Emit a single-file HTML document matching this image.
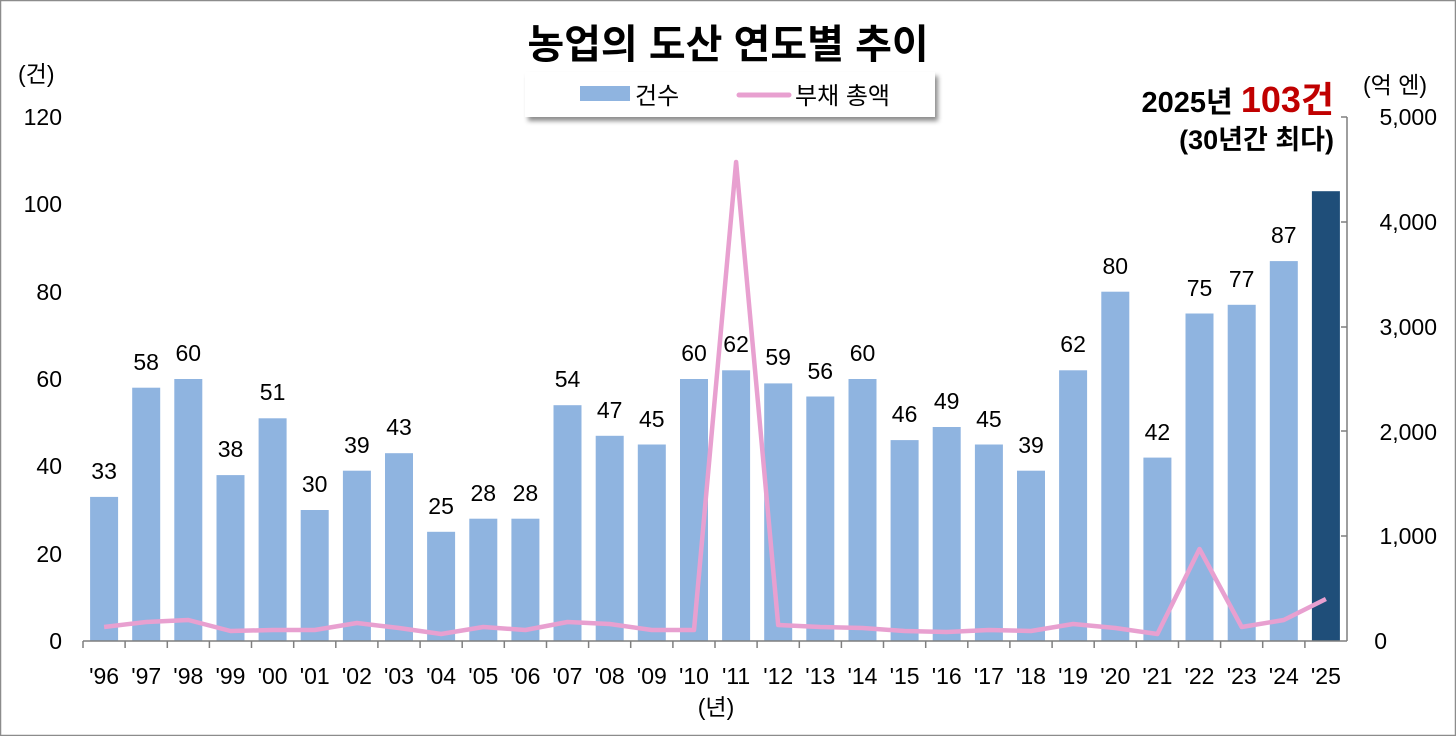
<!DOCTYPE html>
<html><head><meta charset="utf-8"><style>
html,body{margin:0;padding:0;background:#fff;}
svg{display:block;font-family:"Liberation Sans","Noto Sans CJK KR",sans-serif;}
</style></head><body>
<svg width="1456" height="736" viewBox="0 0 1456 736" xmlns="http://www.w3.org/2000/svg">
<defs><filter id="sh" x="-5%" y="-20%" width="115%" height="160%"><feDropShadow dx="3" dy="4" stdDeviation="2.5" flood-color="#000" flood-opacity="0.45"/></filter></defs>
<rect x="0.5" y="0.5" width="1455" height="735" fill="#fff" stroke="#8c8c8c" stroke-width="1.5"/>
<text x="728" y="58" text-anchor="middle" font-size="40" font-weight="bold" fill="#000">농업의 도산 연도별 추이</text>
<rect x="525" y="72" width="410" height="45" fill="#fff" filter="url(#sh)"/>
<rect x="580" y="86" width="50" height="15" fill="#8fb4e0"/>
<text x="635" y="104" font-size="24" fill="#000">건수</text>
<line x1="739" y1="95" x2="789" y2="95" stroke="#e8a0d0" stroke-width="5" stroke-linecap="round"/>
<text x="795" y="104" font-size="24" fill="#000">부채 총액</text>
<text x="18" y="82" font-size="23" fill="#000">(건)</text>
<text x="1363" y="93" font-size="23" fill="#000">(억 엔)</text>
<text x="1334" y="112" text-anchor="end" font-size="29" font-weight="bold" fill="#000">2025년 <tspan fill="#c00000" font-size="36">103건</tspan></text>
<text x="1334" y="149" text-anchor="end" font-size="27" font-weight="bold" fill="#000">(30년간 최다)</text>
<g font-size="23" fill="#000" text-anchor="end">
<text x="62" y="125">120</text><text x="62" y="212">100</text><text x="62" y="300">80</text><text x="62" y="387">60</text><text x="62" y="474">40</text><text x="62" y="562">20</text><text x="62" y="649">0</text>
</g>
<g font-size="23" fill="#000" text-anchor="end">
<text x="1437" y="125">5,000</text><text x="1437" y="230">4,000</text><text x="1437" y="335">3,000</text><text x="1437" y="440">2,000</text><text x="1437" y="544">1,000</text><text x="1387" y="649">0</text>
</g>
<g fill="#8fb4e0">
<rect x="90.1" y="496.9" width="28" height="144.1"/>
<rect x="132.2" y="387.7" width="28" height="253.3"/>
<rect x="174.3" y="379" width="28" height="262"/>
<rect x="216.5" y="475.1" width="28" height="165.9"/>
<rect x="258.6" y="418.3" width="28" height="222.7"/>
<rect x="300.7" y="510" width="28" height="131"/>
<rect x="342.9" y="470.7" width="28" height="170.3"/>
<rect x="385" y="453.2" width="28" height="187.8"/>
<rect x="427.1" y="531.8" width="28" height="109.2"/>
<rect x="469.3" y="518.7" width="28" height="122.3"/>
<rect x="511.4" y="518.7" width="28" height="122.3"/>
<rect x="553.5" y="405.2" width="28" height="235.8"/>
<rect x="595.7" y="435.8" width="28" height="205.2"/>
<rect x="637.8" y="444.5" width="28" height="196.5"/>
<rect x="680" y="379" width="28" height="262"/>
<rect x="722.1" y="370.3" width="28" height="270.7"/>
<rect x="764.2" y="383.4" width="28" height="257.6"/>
<rect x="806.3" y="396.5" width="28" height="244.5"/>
<rect x="848.5" y="379" width="28" height="262"/>
<rect x="890.6" y="440.1" width="28" height="200.9"/>
<rect x="932.7" y="427" width="28" height="214"/>
<rect x="974.9" y="444.5" width="28" height="196.5"/>
<rect x="1017" y="470.7" width="28" height="170.3"/>
<rect x="1059.1" y="370.3" width="28" height="270.7"/>
<rect x="1101.3" y="291.7" width="28" height="349.3"/>
<rect x="1143.4" y="457.6" width="28" height="183.4"/>
<rect x="1185.5" y="313.5" width="28" height="327.5"/>
<rect x="1227.7" y="304.8" width="28" height="336.2"/>
<rect x="1269.8" y="261.1" width="28" height="379.9"/>
</g>
<rect x="1311.9" y="191.2" width="28" height="449.8" fill="#1f4e79"/>
<g font-size="23" fill="#000" text-anchor="middle">
<text x="104.1" y="479">33</text><text x="146.2" y="370">58</text><text x="188.3" y="361">60</text><text x="230.5" y="457">38</text><text x="272.6" y="400">51</text><text x="314.7" y="492">30</text><text x="356.9" y="453">39</text><text x="399" y="435">43</text><text x="441.1" y="514">25</text><text x="483.3" y="501">28</text><text x="525.4" y="501">28</text><text x="567.5" y="387">54</text><text x="609.7" y="418">47</text><text x="651.8" y="427">45</text><text x="694" y="361">60</text><text x="736.1" y="352">62</text><text x="778.2" y="365">59</text><text x="820.3" y="379">56</text><text x="862.5" y="361">60</text><text x="904.6" y="422">46</text><text x="946.7" y="409">49</text><text x="988.9" y="427">45</text><text x="1031" y="453">39</text><text x="1073.1" y="352">62</text><text x="1115.3" y="274">80</text><text x="1157.4" y="440">42</text><text x="1199.5" y="296">75</text><text x="1241.7" y="287">77</text><text x="1283.8" y="243">87</text>
</g>
<polyline fill="none" stroke="#e8a0d0" stroke-width="4.5" stroke-linejoin="round" points="104.1,627 146.2,622 188.3,620 230.5,631 272.6,630 314.7,630 356.9,623 399,628 441.1,634 483.3,627 525.4,630 567.5,622 609.7,624 651.8,630 694,630 736.1,162 778.2,625 820.3,627 862.5,628 904.6,631 946.7,632 988.9,630 1031,631 1073.1,624 1115.3,628 1157.4,634 1199.5,549 1241.7,627 1283.8,620 1325.9,599"/>
<g stroke="#7f7f7f" stroke-width="1.5">
<line x1="83" y1="641" x2="1347" y2="641"/>
<line x1="1347" y1="117" x2="1347" y2="641"/>
<line x1="1341" y1="117" x2="1347" y2="117"/><line x1="1341" y1="222" x2="1347" y2="222"/><line x1="1341" y1="327" x2="1347" y2="327"/><line x1="1341" y1="431" x2="1347" y2="431"/><line x1="1341" y1="536" x2="1347" y2="536"/>
<line x1="83" y1="641" x2="83" y2="648"/><line x1="125.1" y1="641" x2="125.1" y2="648"/><line x1="167.3" y1="641" x2="167.3" y2="648"/><line x1="209.4" y1="641" x2="209.4" y2="648"/><line x1="251.5" y1="641" x2="251.5" y2="648"/><line x1="293.7" y1="641" x2="293.7" y2="648"/><line x1="335.8" y1="641" x2="335.8" y2="648"/><line x1="377.9" y1="641" x2="377.9" y2="648"/><line x1="420.1" y1="641" x2="420.1" y2="648"/><line x1="462.2" y1="641" x2="462.2" y2="648"/><line x1="504.3" y1="641" x2="504.3" y2="648"/><line x1="546.5" y1="641" x2="546.5" y2="648"/><line x1="588.6" y1="641" x2="588.6" y2="648"/><line x1="630.7" y1="641" x2="630.7" y2="648"/><line x1="672.9" y1="641" x2="672.9" y2="648"/><line x1="715" y1="641" x2="715" y2="648"/><line x1="757.1" y1="641" x2="757.1" y2="648"/><line x1="799.3" y1="641" x2="799.3" y2="648"/><line x1="841.4" y1="641" x2="841.4" y2="648"/><line x1="883.5" y1="641" x2="883.5" y2="648"/><line x1="925.7" y1="641" x2="925.7" y2="648"/><line x1="967.8" y1="641" x2="967.8" y2="648"/><line x1="1009.9" y1="641" x2="1009.9" y2="648"/><line x1="1052.1" y1="641" x2="1052.1" y2="648"/><line x1="1094.2" y1="641" x2="1094.2" y2="648"/><line x1="1136.3" y1="641" x2="1136.3" y2="648"/><line x1="1178.5" y1="641" x2="1178.5" y2="648"/><line x1="1220.6" y1="641" x2="1220.6" y2="648"/><line x1="1262.7" y1="641" x2="1262.7" y2="648"/><line x1="1304.9" y1="641" x2="1304.9" y2="648"/>
</g>
<g font-size="23" fill="#000" text-anchor="middle">
<text x="104.1" y="684">'96</text><text x="146.2" y="684">'97</text><text x="188.3" y="684">'98</text><text x="230.5" y="684">'99</text><text x="272.6" y="684">'00</text><text x="314.7" y="684">'01</text><text x="356.9" y="684">'02</text><text x="399" y="684">'03</text><text x="441.1" y="684">'04</text><text x="483.3" y="684">'05</text><text x="525.4" y="684">'06</text><text x="567.5" y="684">'07</text><text x="609.7" y="684">'08</text><text x="651.8" y="684">'09</text><text x="694" y="684">'10</text><text x="736.1" y="684">'11</text><text x="778.2" y="684">'12</text><text x="820.3" y="684">'13</text><text x="862.5" y="684">'14</text><text x="904.6" y="684">'15</text><text x="946.7" y="684">'16</text><text x="988.9" y="684">'17</text><text x="1031" y="684">'18</text><text x="1073.1" y="684">'19</text><text x="1115.3" y="684">'20</text><text x="1157.4" y="684">'21</text><text x="1199.5" y="684">'22</text><text x="1241.7" y="684">'23</text><text x="1283.8" y="684">'24</text><text x="1325.9" y="684">'25</text>
<text x="716" y="715">(년)</text>
</g>
</svg>
</body></html>
